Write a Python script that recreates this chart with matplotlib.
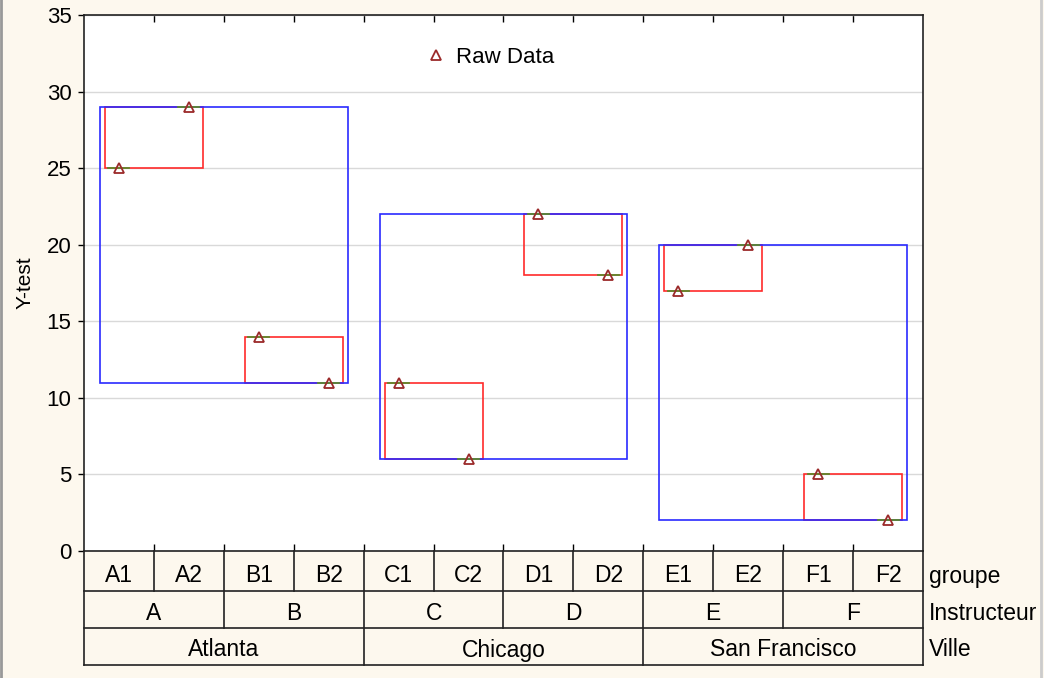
import matplotlib.pyplot as plt
import numpy as np

plt.rcParams['font.family'] = ['Liberation Sans', 'DejaVu Sans']

groupe = ['A1', 'A2', 'B1', 'B2', 'C1', 'C2', 'D1', 'D2', 'E1', 'E2', 'F1', 'F2']
instructeur = ['A', 'B', 'C', 'D', 'E', 'F']
ville = ['Atlanta', 'Chicago', 'San Francisco']
ytest = [25, 29, 14, 11, 11, 6, 22, 18, 17, 20, 5, 2]

bg = '#fdf8ee'
fig = plt.figure(figsize=(10.44, 6.78), dpi=100, facecolor=bg)
ax = fig.add_axes([84/1044, 1-551/678, 839/1044, 536/678])
tab = fig.add_axes([84/1044, 1-665/678, 839/1044, 114/678])

x = np.arange(len(groupe)) + 0.5
y = np.array(ytest)

# instructor boxes (red)
for k in range(len(instructeur)):
    xs = x[2*k:2*k+2]; ys = y[2*k:2*k+2]
    ax.add_patch(plt.Rectangle((xs.min()-0.2, ys.min()), xs.max()-xs.min()+0.4,
                               ys.max()-ys.min(), fill=False, ec='#ff2a2a', lw=1.2, zorder=3))
# city boxes (blue)
for k in range(len(ville)):
    xs = x[4*k:4*k+4]; ys = y[4*k:4*k+4]
    ax.add_patch(plt.Rectangle((xs.min()-0.27, ys.min()), xs.max()-xs.min()+0.54,
                               ys.max()-ys.min(), fill=False, ec='#2a2aff', lw=1.2, zorder=3))

# green mean ticks
for xi, yi in zip(x, y):
    ax.plot([xi-0.15, xi+0.15], [yi, yi], color='#5e8a2e', lw=1.3, zorder=3.5)

ax.plot(x, y, ls='none', marker='^', ms=7, mfc='none', mec='#9b2a2a', mew=1.3,
        label='Raw Data', zorder=4)

ax.set_xlim(0, 12)
ax.set_ylim(0, 35)
ax.set_yticks(range(0, 36, 5))
ax.set_xticks(range(1, 12))
ax.tick_params(axis='x', which='both', bottom=True, top=True, direction='in',
               length=5, labelbottom=False, width=1)
ax.tick_params(axis='y', direction='out', length=4, labelsize=16, pad=5, width=1)
ax.grid(axis='y', color='#d9d9d9', lw=1)
ax.set_axisbelow(True)
for s in ax.spines.values():
    s.set_color('#222222'); s.set_linewidth(1.2)
ax.set_ylabel('Y-test', fontsize=15, labelpad=9)
ax.legend(loc='upper center', bbox_to_anchor=(0.483, 0.978), frameon=False,
          fontsize=16, handletextpad=0.4, handlelength=1.0)

# table below
tab.set_xlim(0, 12)
tab.set_ylim(114, 0)
tab.axis('off')
tab.patch.set_alpha(0)
lc = '#222222'
for yy in [40, 77, 114]:
    tab.plot([0, 12], [yy, yy], color=lc, lw=1.2, clip_on=False)
for xx in range(13):
    if xx in (0, 12) or xx % 4 == 0:
        top = 114
    elif xx % 2 == 0:
        top = 77
    else:
        top = 40
    tab.plot([xx, xx], [0, top], color=lc, lw=1.2, clip_on=False)
fs = 16.5
for i, g in enumerate(groupe):
    tab.text(i+0.5, 25, g, ha='center', va='center', fontsize=fs)
for i, g in enumerate(instructeur):
    tab.text(2*i+1, 62, g, ha='center', va='center', fontsize=fs)
for i, g in enumerate(ville):
    tab.text(4*i+2, 99, g, ha='center', va='center', fontsize=fs)
for yy, lab in [(25, 'groupe'), (62, 'Instructeur'), (99, 'Ville')]:
    tab.text(12.09, yy, lab, ha='left', va='center', fontsize=fs)

# left / right frame lines of the panel
fig.add_artist(plt.Line2D([1/1044, 1/1044], [0, 1], color='#999999', lw=2))
fig.add_artist(plt.Line2D([1041/1044, 1041/1044], [0, 1], color='#cccccc', lw=2))

fig.savefig('out.png', dpi=100, facecolor=bg)
